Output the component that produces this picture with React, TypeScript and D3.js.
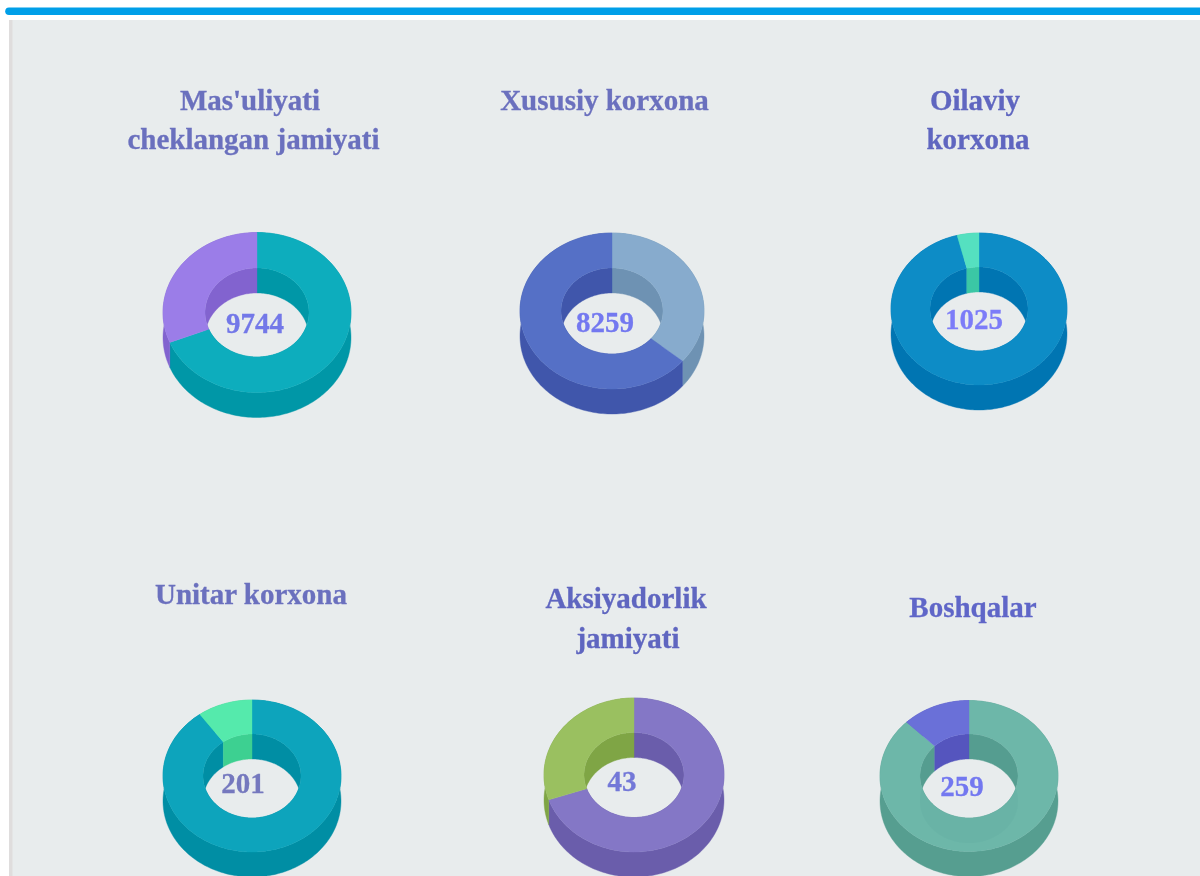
import React from 'react';
import * as d3 from 'd3';

const titleLines = [
  ["Mas'uliyati", 'cheklangan jamiyati'],
  ['Xususiy korxona'],
  ['Oilaviy', 'korxona'],
  ['Unitar korxona'],
  ['Aksiyadorlik', 'jamiyati'],
  ['Boshqalar'],
];
const totals = [9744, 8259, 1025, 201, 43, 259];
const firstShares = [6713, 2982, 984, 181, 30, 227];
const secondShares = [3031, 5277, 41, 20, 13, 32];
const firstTop = ['#0DADBD', '#87ABCD', '#0A8CC6', '#08A4BC', '#8477C6', '#6DB7A9'];
const firstWall = ['#0097A7', '#6E92B3', '#0074B2', '#018EA4', '#6A5DAB', '#569E90'];
const secondTop = ['#9B7DE8', '#5470C6', '#55E0C0', '#55EAAC', '#9AC060', '#6B70D8'];
const secondWall = ['#8263CF', '#3F56AB', '#3AC7A5', '#3DD091', '#7FA545', '#5455BE'];

// layout of each donut, in page pixels
const centerX = [257, 612, 979, 252, 634, 969];
const centerY = [312.5, 311, 309, 776, 775, 776];
const radiusX = [94, 92, 88, 89, 90, 89];
const radiusY = [80, 78, 76, 76, 77, 75.5];
const holeX = [52, 51, 49, 49, 50, 49];
const holeY = [44.5, 43, 42, 42, 42.5, 42];
const depths = [25, 25, 25, 25, 25, 25];
const ghost = [0, 0, 0, 0, 0, 0.06];
const titleX = [[250, 253.5], [604.5], [975, 978], [251], [626, 628], [973]];
const titleY = [[110, 149], [110], [110, 149], [604], [608, 648], [617]];
const labelX = [255, 605, 974, 243, 622, 962];
const labelY = [333, 332, 329, 793, 791, 796];
const titleColor = ['#6B70BE', '#6B70BE', '#5F66C0', '#6B70BE', '#5F66C0', '#5F66C8'];
const labelColor = ['#7378E8', '#7378F0', '#7C7CF8', '#7478BE', '#7378D8', '#7378F0'];

const SERIF = '"Liberation Serif", serif';

function Donut({ i }: { i: number }) {
  const cx = centerX[i], cy = centerY[i];
  const rx = radiusX[i], ry = radiusY[i], hx = holeX[i], hy = holeY[i], d = depths[i];
  const slices = d3.pie<number>().sort(null)([firstShares[i], secondShares[i]]);
  const colors = [firstTop[i], secondTop[i]];
  const walls = [firstWall[i], secondWall[i]];
  const line = d3.line();
  const steps = (a0: number, a1: number) => {
    const n = Math.max(6, Math.ceil((a1 - a0) * 40));
    return d3.range(n + 1).map((j) => a0 + ((a1 - a0) * j) / n);
  };
  const bandPath = (a0: number, a1: number, kx: number, ky: number) => {
    const as = steps(a0, a1);
    const p = (a: number, off: number): [number, number] => [cx + Math.sin(a) * kx, cy - Math.cos(a) * ky + off];
    return line([...as.map((a) => p(a, 0)), ...as.slice().reverse().map((a) => p(a, d))]) + 'Z';
  };
  const topPath = (a0: number, a1: number) => {
    const as = steps(a0, a1);
    const o: [number, number][] = as.map((a) => [cx + Math.sin(a) * rx, cy - Math.cos(a) * ry]);
    const inn: [number, number][] = as.slice().reverse().map((a) => [cx + Math.sin(a) * hx, cy - Math.cos(a) * hy]);
    return line([...o, ...inn]) + 'Z';
  };

  return (
    <g>
      {slices.map((s, j) => (
        <g key={'w' + j} fill={walls[j]} stroke={walls[j]} strokeWidth={0.4}>
          <path d={bandPath(s.startAngle, s.endAngle, rx, ry)} />
          <path d={bandPath(s.startAngle, s.endAngle, hx, hy)} />
        </g>
      ))}
      {slices.map((s, j) => (
        <path key={'t' + j} d={topPath(s.startAngle, s.endAngle)} fill={colors[j]} stroke={colors[j]} strokeWidth={0.4} />
      ))}
      {ghost[i] > 0 && (
        <path d={bandPath(slices[0].startAngle, slices[0].endAngle, hx, hy)} fill={walls[0]} opacity={ghost[i] * 2} />
      )}
    </g>
  );
}

export default function App() {
  return (
    <svg
      width={1200}
      height={876}
      viewBox="0 0 1200 876"
      style={{ position: 'absolute', left: 0, top: 0, display: 'block', background: '#fff' }}
    >
      <defs>
        <filter id="soft" x="-2%" y="-2%" width="104%" height="104%">
          <feGaussianBlur stdDeviation="0.5" />
        </filter>
      </defs>
      <g filter="url(#soft)">
        <path d="M1204 7.5H9a3.8 3.8 0 0 0 0 7.6H1204Z" fill="#009FE8" />
        <rect x={9} y={20} width={1195} height={860} fill="#E8ECED" />
        <rect x={9} y={20} width={3.5} height={860} fill="#DFDDDD" />
        {totals.map((t, i) => (
          <g key={i}>
            <Donut i={i} />
            {titleLines[i].map((l, k) => (
              <text
                key={k}
                x={titleX[i][k]}
                y={titleY[i][k]}
                textAnchor="middle"
                fontFamily={SERIF}
                fontWeight="bold"
                fontSize={29}
                fill={titleColor[i]}
                stroke={titleColor[i]}
                strokeWidth={0.3}
              >
                {l}
              </text>
            ))}
            <text
              x={labelX[i]}
              y={labelY[i]}
              textAnchor="middle"
              fontFamily={SERIF}
              fontWeight="bold"
              fontSize={29}
              fill={labelColor[i]}
              stroke={labelColor[i]}
              strokeWidth={0.3}
            >
              {t}
            </text>
          </g>
        ))}
      </g>
    </svg>
  );
}
